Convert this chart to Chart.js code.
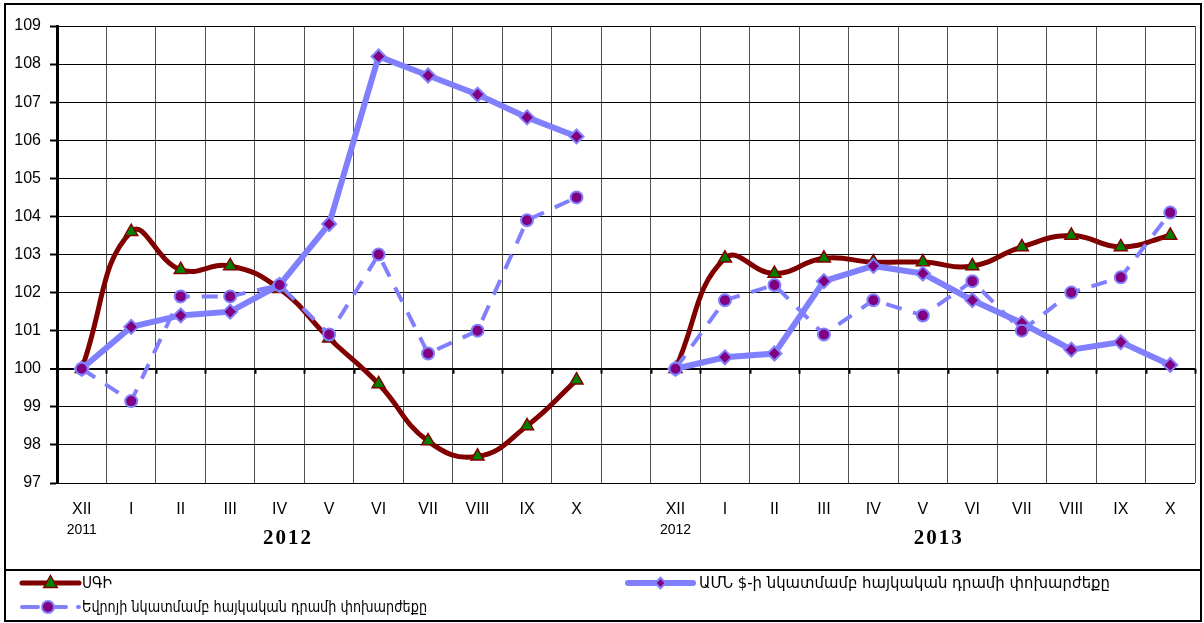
<!DOCTYPE html>
<html>
<head>
<meta charset="utf-8">
<script src="https://cdn.jsdelivr.net/npm/chart.js"></script>
<style>
  body { margin: 0; background: #fff; }
  #wrap { width: 1204px; height: 623px; }
</style>
</head>
<body>
<div id="wrap"><canvas id="myChart" width="1204" height="623"></canvas></div>
<script>
// months, 2012 block, gap, 2013 block
const categories = ['XII','I','II','III','IV','V','VI','VII','VIII','IX','X','',
                    'XII','I','II','III','IV','V','VI','VII','VIII','IX','X']
const subLabels = ['2011','','','','','','','','','','','',
                   '2012','','','','','','','','','','']
const yearLabels = ['2012', '2013']
const yearAt = [4.15, 17.3]   // category position of the year captions

const cpi = [100,103.6,102.6,102.7,102.1,100.8,99.6,98.1,97.7,98.5,99.7,null,
             100,102.9,102.5,102.9,102.8,102.8,102.7,103.2,103.5,103.2,103.5]
const usd = [100,101.1,101.4,101.5,102.2,103.8,108.2,107.7,107.2,106.6,106.1,null,
             100,100.3,100.4,102.3,102.7,102.5,101.8,101.2,100.5,100.7,100.1]
const eur = [100,99.15,101.9,101.9,102.2,100.9,103.0,100.4,101.0,103.9,104.5,null,
             100,101.8,102.2,100.9,101.8,101.4,102.3,101.0,102.0,102.4,104.1]

const names = ['ՍԳԻ',
  'ԱՄՆ $-ի նկատմամբ հայկական դրամի փոխարժեքը',
  'Եվրոյի նկատմամբ հայկական դրամի փոխարժեքը']

const DARKRED = '#800000', BLUE = '#8080FF', PURPLE = '#800080', GREEN = '#008000'
const FONT = 'Arial, "Liberation Sans", "DejaVu Sans", sans-serif'

function marker(ctx, style, x, y, r, fill, stroke, bw){
  ctx.save()
  ctx.setLineDash([])
  ctx.fillStyle = fill
  ctx.strokeStyle = stroke
  ctx.lineWidth = bw
  ctx.beginPath()
  if(style === 'triangle'){
    ctx.moveTo(x, y - r)
    ctx.lineTo(x + r*0.9, y + r*0.6)
    ctx.lineTo(x - r*0.9, y + r*0.6)
    ctx.closePath()
  }else if(style === 'rectRot'){
    const q = r*0.75
    ctx.moveTo(x, y - q); ctx.lineTo(x + q, y); ctx.lineTo(x, y + q); ctx.lineTo(x - q, y)
    ctx.closePath()
  }else{
    ctx.arc(x, y, r, 0, Math.PI*2)
  }
  ctx.fill(); ctx.stroke()
  ctx.restore()
}

const extras = {
  id: 'extras',
  afterDraw(chart){
    const ctx = chart.ctx
    const xs = chart.scales.x, ys = chart.scales.y
    const a = chart.chartArea
    const step = (a.right - a.left) / categories.length
    ctx.save()
    // small ticks on the 100 line
    const y100 = ys.getPixelForValue(100)
    ctx.strokeStyle = '#000'; ctx.lineWidth = 2
    for(let i = 1; i <= categories.length; i++){
      const x = Math.round(a.left + i*step) + 0.5
      ctx.beginPath(); ctx.moveTo(x, y100); ctx.lineTo(x, y100 + 5); ctx.stroke()
    }
    // year under first month
    ctx.fillStyle = '#000'
    ctx.font = '14px ' + FONT
    ctx.textAlign = 'center'; ctx.textBaseline = 'middle'
    subLabels.forEach((t, i)=>{ if(t) ctx.fillText(t, xs.getPixelForValue(i), 530) })
    // big year captions
    ctx.font = 'bold 21px "Liberation Serif", "DejaVu Serif", serif'
    ctx.letterSpacing = '2px'
    yearLabels.forEach((t, i)=>{ ctx.fillText(t, a.left + (yearAt[i] + 0.5)*step + 1, 539) })
    ctx.letterSpacing = '0px'
    // frame and legend separator
    ctx.lineWidth = 2
    ctx.strokeRect(5, 4, 1196, 617)
    ctx.beginPath(); ctx.moveTo(5, 570); ctx.lineTo(1201, 570); ctx.stroke()
    // legend
    ctx.font = '16px "DejaVu Sans", sans-serif'
    ctx.textAlign = 'left'
    const items = [
      {x0: 22, x1: 79, y: 583, tx: 82, w: 30, ds: 0},
      {x0: 628, x1: 693, y: 583, tx: 699, w: 411, ds: 1},
      {x0: 22, x1: 79, y: 607, tx: 82, w: 345, ds: 2}
    ]
    items.forEach(it=>{
      const d = chart.data.datasets[it.ds]
      ctx.save()
      ctx.strokeStyle = d.borderColor
      ctx.lineWidth = d.borderWidth
      ctx.lineCap = 'round'
      ctx.setLineDash(d.borderDash || [])
      ctx.beginPath(); ctx.moveTo(it.x0, it.y); ctx.lineTo(it.x1, it.y); ctx.stroke()
      ctx.restore()
      const mx = it.ds === 2 ? 48 : (it.x0 + it.x1)/2
      marker(ctx, d.pointStyle, mx, it.y, d.pointRadius, d.pointBackgroundColor, d.pointBorderColor, d.pointBorderWidth)
      ctx.save()
      ctx.fillStyle = '#000'
      const sx = it.w / ctx.measureText(names[it.ds]).width
      ctx.translate(it.tx, it.y + 1)
      ctx.scale(sx, 1)
      ctx.fillText(names[it.ds], 0, 0)
      ctx.restore()
    })
    ctx.restore()
  }
}

const config = {
  type: 'line',
  data: {
    labels: categories,
    datasets: [
      {
        label: names[0], data: cpi, order: 2,
        borderColor: DARKRED, borderWidth: 5, tension: 0.45,
        pointStyle: 'triangle', pointRadius: 7.5,
        pointBackgroundColor: GREEN, pointBorderColor: DARKRED, pointBorderWidth: 1.5,
        spanGaps: false
      },
      {
        label: names[1], data: usd, order: 1,
        borderColor: BLUE, borderWidth: 6, tension: 0,
        pointStyle: 'rectRot', pointRadius: 7,
        pointBackgroundColor: PURPLE, pointBorderColor: BLUE, pointBorderWidth: 2,
        spanGaps: false
      },
      {
        label: names[2], data: eur, order: 0,
        borderColor: BLUE, borderWidth: 4, borderDash: [16, 12], tension: 0,
        pointStyle: 'circle', pointRadius: 6,
        pointBackgroundColor: PURPLE, pointBorderColor: BLUE, pointBorderWidth: 2,
        spanGaps: false
      }
    ]
  },
  options: {
    responsive: false,
    devicePixelRatio: 1,
    animation: false,
    layout: { padding: { left: 0, top: 26, right: 4, bottom: 90 } },
    plugins: { legend: { display: false }, tooltip: { enabled: false } },
    scales: {
      x: {
        offset: true,
        grid: { offset: true, color: '#505050', lineWidth: 1, drawTicks: false },
        border: { display: false },
        ticks: { color: '#000', font: { size: 16, family: FONT }, padding: 17, maxRotation: 0, autoSkip: false },
        afterFit: s => { s.height = 50 }
      },
      y: {
        min: 97, max: 109,
        ticks: { stepSize: 1, color: '#000', font: { size: 16, family: FONT }, padding: 9 },
        grid: {
          color: '#000',
          lineWidth: c => (c.tick && c.tick.value === 100) ? 2 : 1,
          tickLength: 7, tickColor: '#000', tickWidth: 2
        },
        border: { color: '#000', width: 3 },
        afterFit: s => { s.width = 57 }
      }
    }
  },
  plugins: [extras]
}

const myChart = new Chart(document.getElementById('myChart'), config)
</script>
</body>
</html>
